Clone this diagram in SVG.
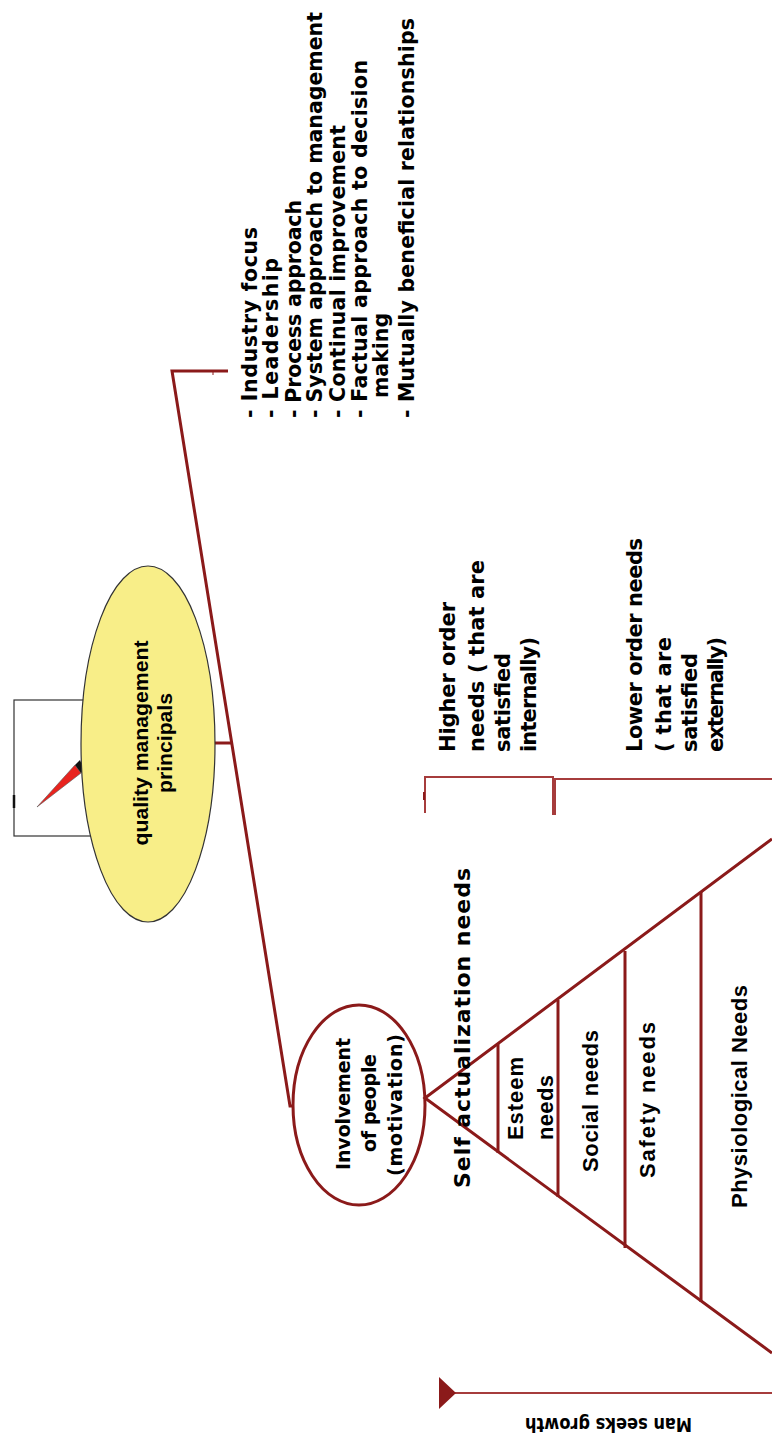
<svg xmlns="http://www.w3.org/2000/svg" width="772" height="1443" viewBox="0 0 772 1443">
  <style>
    .t { font-family: "DejaVu Sans", "Liberation Sans", sans-serif; font-weight: bold; fill: #000; }
    .a { font-family: "Liberation Sans", Arial, sans-serif; font-weight: bold; fill: #000; }
    .line { stroke: #8b1a1a; stroke-width: 3; fill: none; }
    .thin { stroke: #a63c3c; stroke-width: 2; fill: none; }
  </style>
  <defs>
    <marker id="arrowHead" markerWidth="18" markerHeight="32" refX="1" refY="16" orient="auto" markerUnits="userSpaceOnUse">
      <path d="M0,16 L17,0 L17,32 Z" fill="#8b1a1a"/>
    </marker>
  </defs>
  <rect width="772" height="1443" fill="#fff"/>

  <!-- compass emblem behind the principles node -->
  <g id="compass">
    <rect x="14" y="700" width="120" height="136" fill="#fff" stroke="#333" stroke-width="1.2"/>
    <line x1="14" y1="795" x2="14" y2="808" stroke="#111" stroke-width="2.5"/>
    <polygon points="37,807 75,765 81,773" fill="#e8231e" stroke="#555" stroke-width="0.6"/>
    <polygon points="75,765 80,760 84,770 81,773" fill="#111"/>
  </g>

  <!-- connectors -->
  <g id="connectors">
    <path class="line" d="M228,371 H172 L290,1106 H296"/>
    <line class="line" x1="214" y1="743" x2="232" y2="743"/>
    <line x1="213" y1="371" x2="213" y2="375" stroke="#8b1a1a" stroke-width="1"/>
    <!-- need brackets -->
    <path class="thin" d="M425,813 V777 H553 V815"/>
    <path class="thin" d="M555,815 V779 H772"/>
    <line x1="424" y1="792" x2="424" y2="800" stroke="#8b1a1a" stroke-width="2"/>
    <!-- growth arrow -->
    <line x1="772" y1="1393" x2="455" y2="1393" stroke="#a63c3c" stroke-width="2" marker-end="url(#arrowHead)"/>
  </g>

  <!-- quality management principals -->
  <g id="principles">
    <ellipse cx="148" cy="744" rx="67" ry="178" fill="#f8ee88" stroke="#333" stroke-width="1.2"/>
    <text class="a" font-size="21" text-anchor="middle" transform="translate(148,743) rotate(-90)" textLength="205" lengthAdjust="spacingAndGlyphs">quality management</text>
    <text class="a" font-size="21" text-anchor="middle" transform="translate(172,743) rotate(-90)" textLength="100" lengthAdjust="spacingAndGlyphs">principals</text>
  </g>

  <!-- principle list -->
  <g id="principle-list" font-size="20.5">
    <text class="t" transform="translate(257,418) rotate(-90)" textLength="191" lengthAdjust="spacing">- Industry  focus</text>
    <text class="t" transform="translate(278,418) rotate(-90)" textLength="160" lengthAdjust="spacing">- Leadership</text>
    <text class="t" transform="translate(301,418) rotate(-90)" textLength="218" lengthAdjust="spacing">- Process approach</text>
    <text class="t" transform="translate(322,418) rotate(-90)" textLength="406" lengthAdjust="spacing">- System approach to management</text>
    <text class="t" transform="translate(345,418) rotate(-90)" textLength="293" lengthAdjust="spacing">- Continual improvement</text>
    <text class="t" transform="translate(367,418) rotate(-90)" textLength="358" lengthAdjust="spacing">- Factual approach to decision</text>
    <text class="t" transform="translate(388,398) rotate(-90)">making</text>
    <text class="t" transform="translate(414,418) rotate(-90)" textLength="400" lengthAdjust="spacing">- Mutually beneficial relationships</text>
  </g>

  <!-- involvement of people -->
  <g id="involvement">
    <ellipse cx="359" cy="1105" rx="66" ry="100" fill="#fff" stroke="#8b1a1a" stroke-width="3"/>
    <text class="t" font-size="19" transform="translate(350,1170) rotate(-90)" textLength="132" lengthAdjust="spacing">Involvement</text>
    <text class="t" font-size="19" transform="translate(376,1152) rotate(-90)" textLength="98" lengthAdjust="spacing">of people</text>
    <text class="t" font-size="19" transform="translate(402,1176) rotate(-90)" textLength="142" lengthAdjust="spacing">(motivation)</text>
  </g>

  <!-- hierarchy of needs -->
  <g id="needs-pyramid">
    <polyline class="line" points="772,839 425,1098 772,1353"/>
    <line class="line" x1="498" y1="1044" x2="498" y2="1153"/>
    <line class="line" x1="558" y1="1000" x2="558" y2="1197"/>
    <line class="line" x1="625" y1="951" x2="625" y2="1248"/>
    <line class="line" x1="701" y1="892" x2="701" y2="1302"/>
  </g>
  <g id="self-actualization">
    <text class="t" font-size="22" transform="translate(470,1188) rotate(-90)" textLength="320" lengthAdjust="spacing">Self actualization needs</text>
  </g>
  <g id="esteem">
    <text class="a" font-size="22" transform="translate(523,1140) rotate(-90)" textLength="83" lengthAdjust="spacing">Esteem</text>
    <text class="a" font-size="22" transform="translate(553,1140) rotate(-90)" textLength="65" lengthAdjust="spacing">needs</text>
  </g>
  <g id="social">
    <text class="a" font-size="22" transform="translate(598,1172) rotate(-90)" textLength="142" lengthAdjust="spacing">Social needs</text>
  </g>
  <g id="safety">
    <text class="a" font-size="22" transform="translate(655,1178) rotate(-90)" textLength="156" lengthAdjust="spacing">Safety needs</text>
  </g>
  <g id="physiological">
    <text class="a" font-size="22" transform="translate(747,1208) rotate(-90)" textLength="223" lengthAdjust="spacing">Physiological Needs</text>
  </g>

  <!-- need groups -->
  <g id="higher-order" font-size="21">
    <text class="t" transform="translate(455,752) rotate(-90)" textLength="150" lengthAdjust="spacing">Higher order</text>
    <text class="t" transform="translate(484,752) rotate(-90)" textLength="192" lengthAdjust="spacing">needs ( that are</text>
    <text class="t" transform="translate(510,752) rotate(-90)" textLength="99" lengthAdjust="spacing">satisfied</text>
    <text class="t" transform="translate(536,752) rotate(-90)" textLength="115" lengthAdjust="spacing">internally)</text>
  </g>
  <g id="lower-order" font-size="21">
    <text class="t" transform="translate(642,752) rotate(-90)" textLength="214" lengthAdjust="spacing">Lower order needs</text>
    <text class="t" transform="translate(671,752) rotate(-90)" textLength="115" lengthAdjust="spacing">( that are</text>
    <text class="t" transform="translate(697,752) rotate(-90)" textLength="99" lengthAdjust="spacing">satisfied</text>
    <text class="t" transform="translate(723,752) rotate(-90)" textLength="115" lengthAdjust="spacing">externally)</text>
  </g>

  <g id="growth-label">
    <text class="t" font-size="19" transform="translate(692,1418) rotate(180)" textLength="167" lengthAdjust="spacingAndGlyphs">Man seeks growth</text>
  </g>
</svg>
